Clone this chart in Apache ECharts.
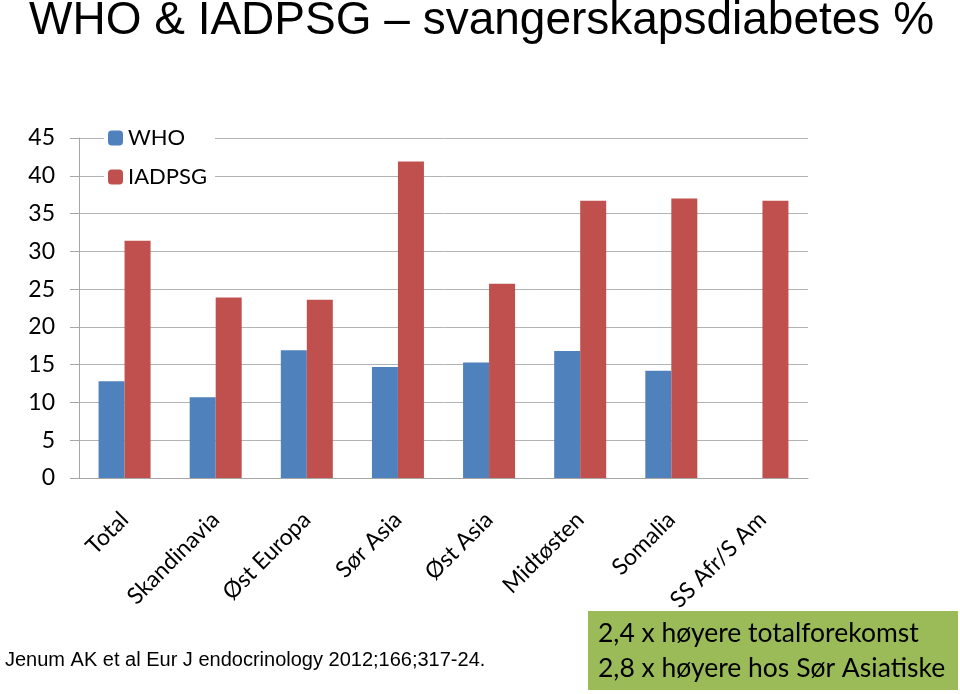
<!DOCTYPE html>
<html>
<head>
<meta charset="utf-8">
<script src="https://cdn.jsdelivr.net/npm/echarts@6/dist/echarts.min.js"></script>
<style>
  html, body { margin: 0; padding: 0; background: #fff; }
  #chart { width: 960px; height: 694px; }
</style>
</head>
<body>
<div id="chart"></div>
<script>
// Data
const categories = ['Total', 'Skandinavia', 'Øst Europa', 'Sør Asia', 'Øst Asia', 'Midtøsten', 'Somalia', 'SS Afr/S Am'];
const whoValues = [12.8, 10.7, 16.9, 14.7, 15.3, 16.8, 14.2, null];
const iadpsgValues = [31.4, 23.9, 23.6, 41.9, 25.7, 36.7, 37.0, 36.7];
const yTicks = { min: 0, max: 45, interval: 5 };

const chart = echarts.init(document.getElementById('chart'));

const option = {
    animation: false,
    title: {
        text: 'WHO & IADPSG – svangerskapsdiabetes %',
        left: 24,
        top: -7,
        textStyle: { fontFamily: 'Liberation Sans', fontSize: 46, fontWeight: 'normal', color: '#000' }
    },
    legend: {
        orient: 'vertical',
        left: 104,
        top: 125,
        itemWidth: 15,
        itemHeight: 15,
        itemGap: 17,
        backgroundColor: '#fff',
        padding: [2, 8, 2, 4],
        textStyle: { fontFamily: 'Lato', fontSize: 22, color: '#000' },
        data: ['WHO', 'IADPSG']
    },
    grid: { left: 79, right: 152, top: 138, bottom: 216 },
    xAxis: {
        type: 'category',
        data: categories,
        axisLine: { lineStyle: { color: '#a6a6a6' } },
        axisTick: { length: 9, lineStyle: { color: '#a6a6a6' } },
        axisLabel: { rotate: 45, interval: 0, fontFamily: 'Lato', fontSize: 23, color: '#000', margin: 38 }
    },
    yAxis: {
        type: 'value',
        min: yTicks.min,
        max: yTicks.max,
        interval: yTicks.interval,
        axisLine: { show: true, lineStyle: { color: '#a6a6a6' } },
        axisTick: { show: true, length: 9, lineStyle: { color: '#a6a6a6' } },
        axisLabel: { fontFamily: 'Lato', fontSize: 23, color: '#000', margin: 24 },
        splitLine: { lineStyle: { color: '#b3b3b3' } }
    },
    series: [
        {
            name: 'WHO',
            type: 'bar',
            data: whoValues,
            barWidth: 26,
            barGap: '0%',
            itemStyle: { color: '#4f81bd' }
        },
        {
            name: 'IADPSG',
            type: 'bar',
            data: iadpsgValues,
            barWidth: 26,
            itemStyle: { color: '#c0504d' }
        }
    ],
    graphic: [
        {
            type: 'text',
            left: 5,
            top: 650,
            style: {
                text: 'Jenum AK et al Eur J endocrinology 2012;166;317-24.',
                fontFamily: 'Liberation Sans',
                fontSize: 20,
                fill: '#000'
            }
        },
        {
            type: 'group',
            left: 588,
            top: 611,
            children: [
                { type: 'rect', shape: { x: 0, y: 0, width: 370, height: 79 }, style: { fill: '#9bbb59' } },
                {
                    type: 'text',
                    x: 10,
                    y: 5,
                    style: {
                        text: '2,4 x høyere totalforekomst\n2,8 x høyere hos Sør Asiatiske',
                        fontFamily: 'Lato',
                        fontSize: 26.5,
                        lineHeight: 35,
                        fill: '#000'
                    }
                }
            ]
        }
    ]
};

chart.setOption(option);

window.addEventListener('resize', function() {
    chart.resize();
});
</script>
</body>
</html>
